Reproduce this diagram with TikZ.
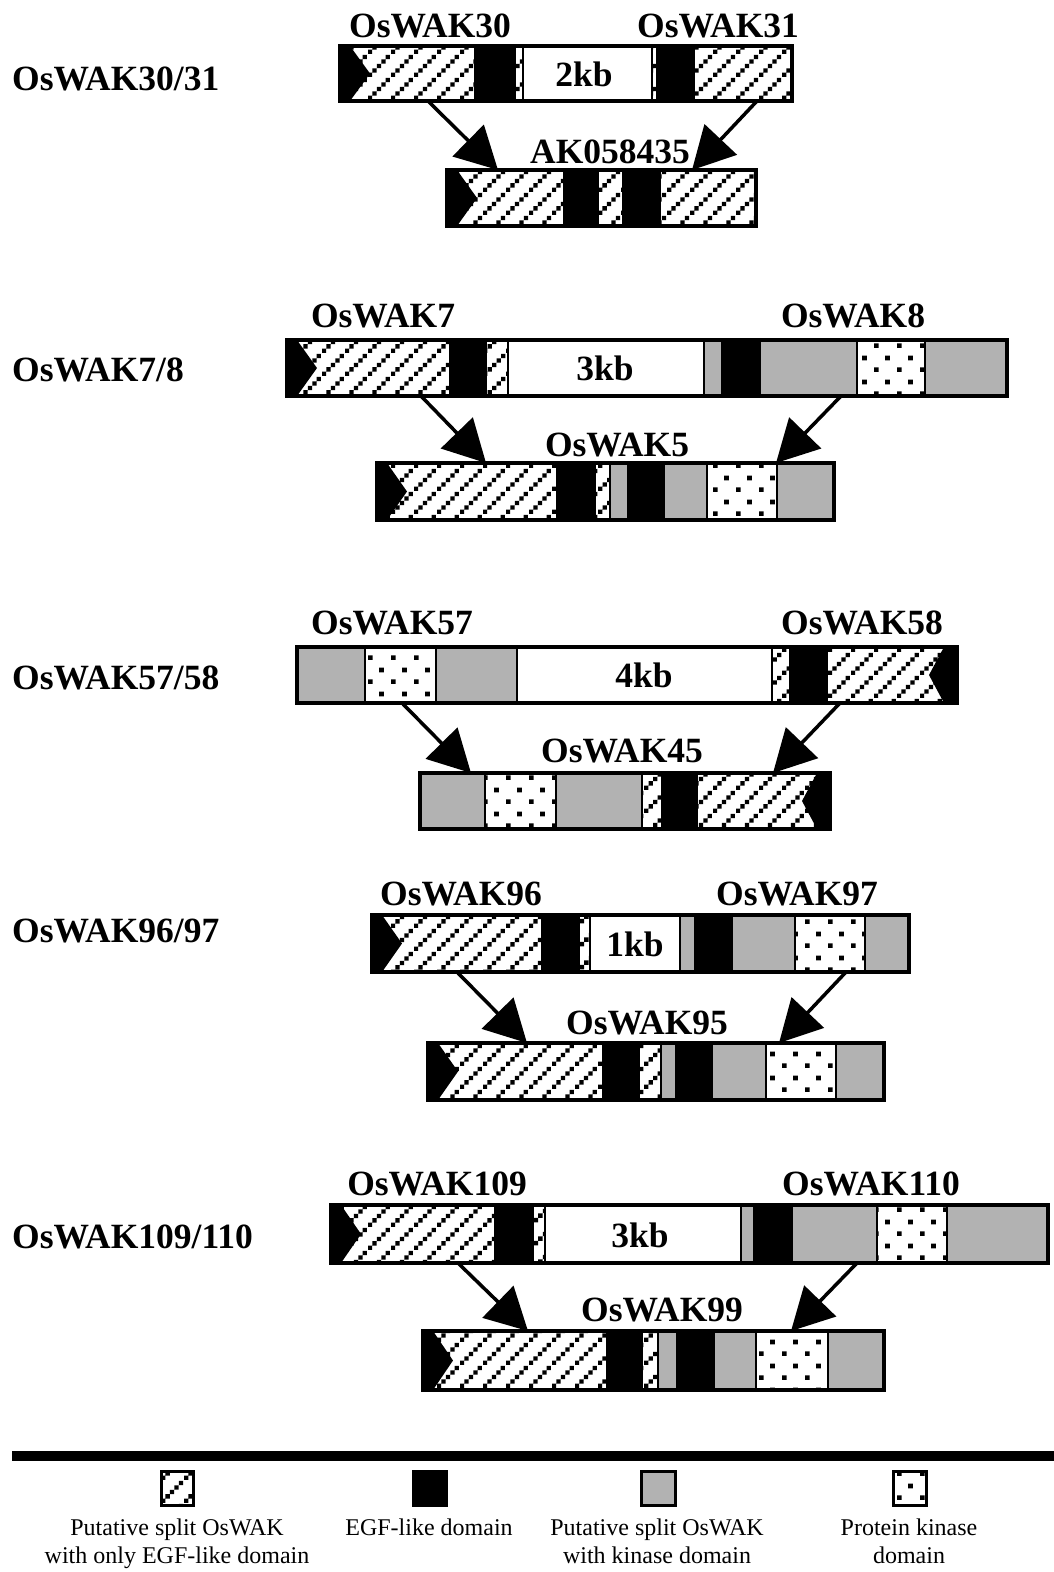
\documentclass[tikz,border=0pt]{standalone}
\usepackage{fontspec}
\setmainfont{Liberation Serif}
\usetikzlibrary{patterns,arrows.meta}

% diagonal rows of small squares (split OsWAK, EGF-like only)
\pgfdeclarepatternformonly{wakhatch}{\pgfqpoint{0pt}{0pt}}{\pgfqpoint{23pt}{23pt}}{\pgfqpoint{23pt}{23pt}}{%
  \pgfpathrectangle{\pgfqpoint{0pt}{0pt}}{\pgfqpoint{4.4pt}{4.4pt}}%
  \pgfpathrectangle{\pgfqpoint{4.6pt}{4.6pt}}{\pgfqpoint{4.4pt}{4.4pt}}%
  \pgfpathrectangle{\pgfqpoint{9.2pt}{9.2pt}}{\pgfqpoint{4.4pt}{4.4pt}}%
  \pgfpathrectangle{\pgfqpoint{13.8pt}{13.8pt}}{\pgfqpoint{4.4pt}{4.4pt}}%
  \pgfpathrectangle{\pgfqpoint{18.4pt}{18.4pt}}{\pgfqpoint{4.4pt}{4.4pt}}%
  \pgfusepath{fill}}
% staggered dots (protein kinase domain)
\pgfdeclarepatternformonly{wakdots}{\pgfqpoint{0pt}{0pt}}{\pgfqpoint{23pt}{24pt}}{\pgfqpoint{23pt}{24pt}}{%
  \pgfpathrectangle{\pgfqpoint{0pt}{0pt}}{\pgfqpoint{4.8pt}{4.8pt}}%
  \pgfpathrectangle{\pgfqpoint{11.5pt}{12pt}}{\pgfqpoint{4.8pt}{4.8pt}}%
  \pgfusepath{fill}}

\definecolor{kgray}{RGB}{178,178,178}

\tikzset{
  seg/.style={draw=black, line width=2pt},
  segh/.style={pattern=wakhatch},
  sege/.style={fill=black},
  segk/.style={fill=kgray},
  segd/.style={pattern=wakdots},
  segw/.style={fill=white},
  outer/.style={draw=black, line width=3.5pt},
  conn/.style={line width=3.5pt, -{Triangle[length=42pt,width=44pt]}},
  lbl/.style={font=\fontsize{35.5}{40}\selectfont\bfseries, inner sep=0pt, anchor=base},
  rowlbl/.style={lbl, anchor=base west},
  kb/.style={lbl},
  legtxt/.style={font=\fontsize{24}{28}\selectfont, inner sep=0pt, anchor=base},
  icon/.style={draw=black, line width=3pt},
}

% #1 top, #2 bottom, #3 left, #4 right, #5 segments style/x1/x2
\newcommand\genebox[5]{%
  \foreach \st/\xa/\xb in {#5}{\path[seg,\st] (\xa,#1) rectangle (\xb,#2);}%
}
\newcommand\geneframe[4]{\draw[outer] (#3,#1) rectangle (#4,#2);}
% notched black arrow at the start or end of a box
\newcommand\lefttip[3]{\fill[black] (#1,#2) -- ({#1+10},#2) -- ({#1+30},{(#2+#3)/2}) -- ({#1+10},#3) -- (#1,#3) -- cycle;}
\newcommand\righttip[3]{\fill[black] (#1,#2) -- ({#1-13},#2) -- ({#1-28},{(#2+#3)/2}) -- ({#1-13},#3) -- (#1,#3) -- cycle;}

\begin{document}
\begin{tikzpicture}[x=1pt,y=-1pt]
\fill[white] (0,0) rectangle (1054,1572);
\useasboundingbox (0,0) rectangle (1054,1572);

% ---------------- OsWAK30/31 ----------------
\node[rowlbl] (r1) at (12,90) {OsWAK30/31};
\node[lbl] (g30) at (430,37) {OsWAK30};
\node[lbl] (g31) at (718,37) {OsWAK31};
\genebox{46}{101}{340}{792}{segh/340/475, sege/475/515, segh/515/523, segw/523/652, segh/652/657, sege/657/694, segh/694/792}
\lefttip{340}{46}{101}
\geneframe{46}{101}{340}{792}
\node[kb] (kb1) at (584,86) {2kb};
\node[lbl] (ak) at (610,163) {AK058435};
\genebox{170}{226}{447}{756}{segh/447/564, sege/564/598, segh/598/623, sege/623/660, segh/660/756}
\lefttip{447}{170}{226}
\geneframe{170}{226}{447}{756}
\coordinate (a1s) at (428,101); \coordinate (a1e) at (498,170);
\coordinate (b1s) at (757,101); \coordinate (b1e) at (692,170);
\draw[conn] (a1s) -- (a1e);
\draw[conn] (b1s) -- (b1e);

% ---------------- OsWAK7/8 ----------------
\node[rowlbl] (r2) at (12,381) {OsWAK7/8};
\node[lbl] (g7) at (383,327) {OsWAK7};
\node[lbl] (g8) at (853,327) {OsWAK8};
\genebox{340}{396}{287}{1007}{segh/287/450, sege/450/486, segh/486/508, segw/508/704, segk/704/722, sege/722/760, segk/760/857, segd/857/925, segk/925/1007}
\lefttip{287}{340}{396}
\geneframe{340}{396}{287}{1007}
\node[kb] (kb2) at (605,380) {3kb};
\node[lbl] (g5) at (617,456) {OsWAK5};
\genebox{463}{520}{377}{834}{segh/377/557, sege/557/595, segh/595/610, segk/610/628, sege/628/664, segk/664/707, segd/707/777, segk/777/834}
\lefttip{377}{463}{520}
\geneframe{463}{520}{377}{834}
\coordinate (a2s) at (421,396); \coordinate (a2e) at (486,463);
\coordinate (b2s) at (841,396); \coordinate (b2e) at (776,463);
\draw[conn] (a2s) -- (a2e);
\draw[conn] (b2s) -- (b2e);

% ---------------- OsWAK57/58 ----------------
\node[rowlbl] (r3) at (12,689) {OsWAK57/58};
\node[lbl] (g57) at (392,634) {OsWAK57};
\node[lbl] (g58) at (862,634) {OsWAK58};
\genebox{647}{703}{297}{957}{segk/297/365, segd/365/436, segk/436/517, segw/517/772, segh/772/790, sege/790/827, segh/827/957}
\righttip{957}{647}{703}
\geneframe{647}{703}{297}{957}
\node[kb] (kb3) at (644,687) {4kb};
\node[lbl] (g45) at (622,762) {OsWAK45};
\genebox{773}{829}{420}{830}{segk/420/485, segd/485/556, segk/556/642, segh/642/662, sege/662/697, segh/697/830}
\righttip{830}{773}{829}
\geneframe{773}{829}{420}{830}
\coordinate (a3s) at (402,703); \coordinate (a3e) at (471,773);
\coordinate (b3s) at (840,703); \coordinate (b3e) at (773,773);
\draw[conn] (a3s) -- (a3e);
\draw[conn] (b3s) -- (b3e);

% ---------------- OsWAK96/97 ----------------
\node[rowlbl] (r4) at (12,942) {OsWAK96/97};
\node[lbl] (g96) at (461,905) {OsWAK96};
\node[lbl] (g97) at (797,905) {OsWAK97};
\genebox{915}{972}{372}{909}{segh/372/542, sege/542/579, segh/579/590, segw/590/680, segk/680/695, sege/695/732, segk/732/795, segd/795/865, segk/865/909}
\lefttip{372}{915}{972}
\geneframe{915}{972}{372}{909}
\node[kb] (kb4) at (635,956) {1kb};
\node[lbl] (g95) at (647,1034) {OsWAK95};
\genebox{1043}{1100}{428}{884}{segh/428/603, sege/603/639, segh/639/661, segk/661/676, sege/676/712, segk/712/766, segd/766/836, segk/836/884}
\lefttip{428}{1043}{1100}
\geneframe{1043}{1100}{428}{884}
\coordinate (a4s) at (457,972); \coordinate (a4e) at (527,1043);
\coordinate (b4s) at (846,972); \coordinate (b4e) at (779,1043);
\draw[conn] (a4s) -- (a4e);
\draw[conn] (b4s) -- (b4e);

% ---------------- OsWAK109/110 ----------------
\node[rowlbl] (r5) at (12,1248) {OsWAK109/110};
\node[lbl] (g109) at (437,1195) {OsWAK109};
\node[lbl] (g110) at (871,1195) {OsWAK110};
\genebox{1205}{1263}{331}{1048}{segh/331/495, sege/495/533, segh/533/545, segw/545/741, segk/741/754, sege/754/792, segk/792/877, segd/877/947, segk/947/1048}
\lefttip{331}{1205}{1263}
\geneframe{1205}{1263}{331}{1048}
\node[kb] (kb5) at (640,1247) {3kb};
\node[lbl] (g99) at (662,1321) {OsWAK99};
\genebox{1331}{1390}{423}{884}{segh/423/607, sege/607/642, segh/642/658, segk/658/677, sege/677/714, segk/714/756, segd/756/828, segk/828/884}
\lefttip{423}{1331}{1390}
\geneframe{1331}{1390}{423}{884}
\coordinate (a5s) at (458,1263); \coordinate (a5e) at (528,1331);
\coordinate (b5s) at (857,1263); \coordinate (b5e) at (791,1331);
\draw[conn] (a5s) -- (a5e);
\draw[conn] (b5s) -- (b5e);

% ---------------- legend ----------------
\fill[black] (12,1451) rectangle (1054,1461);
\path[icon, pattern=wakhatch] (161,1471) rectangle (193,1505);
\path[icon, fill=black] (413,1471) rectangle (446,1505);
\path[icon, fill=kgray] (641,1471) rectangle (675,1505);
\path[icon, pattern=wakdots] (893,1471) rectangle (926,1505);
\node[legtxt] (l1a) at (177,1535) {Putative split OsWAK};
\node[legtxt] (l1b) at (177,1563) {with only EGF-like domain};
\node[legtxt] (l2a) at (429,1535) {EGF-like domain};
\node[legtxt] (l3a) at (657,1535) {Putative split OsWAK};
\node[legtxt] (l3b) at (657,1563) {with kinase domain};
\node[legtxt] (l4a) at (909,1535) {Protein kinase};
\node[legtxt] (l4b) at (909,1563) {domain};
\end{tikzpicture}
\end{document}
